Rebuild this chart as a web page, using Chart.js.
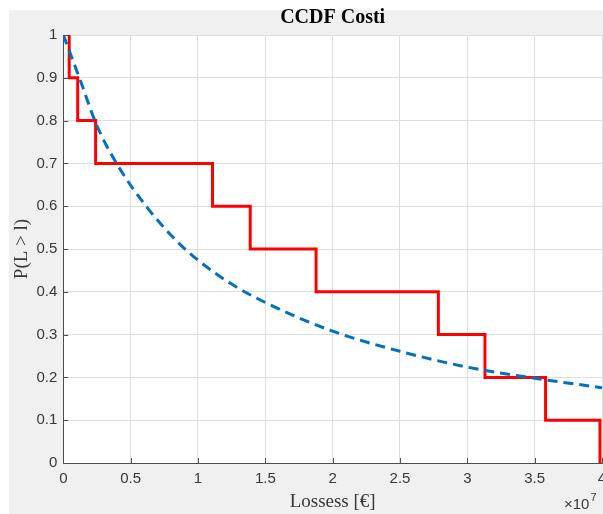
<!DOCTYPE html>
<html>
<head>
<meta charset="utf-8">
<title>CCDF Costi</title>
<script src="https://cdn.jsdelivr.net/npm/chart.js@4/dist/chart.umd.min.js"></script>
<style>
	html, body { margin: 0; padding: 0; background: #fff; }
	#ccdf { display: block; }
</style>
</head>
<body>
<canvas id="ccdf" width="603" height="514"></canvas>
<script>
// Empirical CCDF (stairs): each point closes the level it carries
var stepLoss = [0.044e7, 0.107e7, 0.24e7, 1.108e7, 1.388e7, 1.877e7, 2.785e7, 3.131e7, 3.581e7, 3.985e7, 3.985e7];
var stepProb = [1, 0.9, 0.8, 0.7, 0.6, 0.5, 0.4, 0.3, 0.2, 0.1, 0];

// Fitted CCDF (dashed)
var fitLoss = [0, 0.131e7, 0.247e7, 0.405e7, 0.635e7, 0.863e7, 1.0e7, 1.235e7, 1.5e7, 2.0e7, 2.5e7, 3.0e7, 3.5e7, 4.0e7];
var fitProb = [1, 0.89, 0.79, 0.695, 0.592, 0.512, 0.474, 0.421, 0.375, 0.308, 0.261, 0.224, 0.198, 0.176];

var xTicksStep = 0.5e7;
var yTicksStep = 0.1;

function toPoints(xs, ys) {
	return xs.map(function (x, i) { return { x: x, y: ys[i] }; });
}

var sans = 'Liberation Sans, Arial, sans-serif';
var serif = 'Liberation Serif, Times New Roman, serif';
var axisColor = '#4d4d4d';
var textColor = '#383838';

// Grey figure background with white axes area
var figureBackground = {
	id: 'figureBackground',
	beforeDraw: function (chart) {
		var ctx = chart.ctx, a = chart.chartArea;
		ctx.save();
		ctx.fillStyle = '#ffffff';
		ctx.fillRect(0, 0, chart.width, chart.height);
		ctx.fillStyle = '#f0f0f0';
		ctx.fillRect(9, 10, chart.width - 9, chart.height - 10);
		ctx.fillStyle = '#ffffff';
		ctx.fillRect(a.left, a.top, a.right - a.left, a.bottom - a.top);
		ctx.restore();
	}
};

// MATLAB style inward ticks and the x10^7 exponent label
var matlabAxes = {
	id: 'matlabAxes',
	afterDraw: function (chart) {
		var ctx = chart.ctx, a = chart.chartArea;
		var xs = chart.scales.x, ys = chart.scales.y;
		ctx.save();
		ctx.strokeStyle = axisColor;
		ctx.lineWidth = 1;
		ctx.beginPath();
		xs.ticks.forEach(function (t) {
			var px = Math.round(xs.getPixelForValue(t.value)) + 0.5;
			ctx.moveTo(px, a.bottom);
			ctx.lineTo(px, a.bottom - 5);
		});
		ys.ticks.forEach(function (t) {
			var py = Math.round(ys.getPixelForValue(t.value)) + 0.5;
			ctx.moveTo(a.left, py);
			ctx.lineTo(a.left + 5, py);
		});
		ctx.stroke();

		ctx.fillStyle = textColor;
		ctx.textBaseline = 'alphabetic';
		ctx.font = '15px ' + sans;
		var base = '\u00d710';
		ctx.fillText(base, 564, 509);
		var w = ctx.measureText(base).width;
		ctx.font = '11px ' + sans;
		ctx.fillText('7', 564 + w + 1, 501);
		ctx.restore();
	}
};

new Chart(document.getElementById('ccdf').getContext('2d'), {
	type: 'line',
	data: {
		datasets: [
			{
				label: 'Fit',
				data: toPoints(fitLoss, fitProb),
				borderColor: '#0072bd',
				borderWidth: 3,
				borderDash: [10, 6],
				cubicInterpolationMode: 'monotone',
				pointRadius: 0,
				fill: false,
				order: 0
			},
			{
				label: 'Empirica',
				data: toPoints(stepLoss, stepProb),
				borderColor: '#ff0000',
				borderWidth: 3,
				stepped: 'after',
				pointRadius: 0,
				fill: false,
				order: 1
			}
		]
	},
	options: {
		responsive: false,
		animation: false,
		layout: { padding: { left: 0, right: 1, top: 0, bottom: 0 } },
		plugins: {
			legend: { display: false },
			tooltip: { enabled: false },
			title: {
				display: true,
				text: 'CCDF Costi',
				fullSize: false,
				color: '#000000',
				font: { family: serif, size: 20, weight: 'bold' },
				padding: { top: 6, bottom: 5 }
			}
		},
		scales: {
			x: {
				type: 'linear',
				min: 0,
				max: 4e7,
				afterFit: function (scale) {
					scale.height = 51;
					scale.paddingLeft = 0;
					scale.paddingRight = 0;
				},
				ticks: {
					stepSize: xTicksStep,
					autoSkip: false,
					maxRotation: 0,
					padding: 7,
					color: textColor,
					font: { family: sans, size: 15 },
					callback: function (v) { return String(Number((v / 1e7).toFixed(2))); }
				},
				grid: { color: '#dedede', drawTicks: false },
				border: { color: axisColor },
				title: {
					display: true,
					text: 'Lossess [\u20ac]',
					color: textColor,
					font: { family: serif, size: 19 },
					padding: { top: 0, bottom: 1 }
				}
			},
			y: {
				min: 0,
				max: 1,
				afterFit: function (scale) {
					scale.width = 63.3;
					scale.paddingTop = 0;
					scale.paddingBottom = 0;
				},
				ticks: {
					stepSize: yTicksStep,
					padding: 6,
					color: textColor,
					font: { family: sans, size: 15 },
					callback: function (v) { return String(Number(v.toFixed(1))); }
				},
				grid: { color: '#dedede', drawTicks: false },
				border: { color: axisColor },
				title: {
					display: true,
					text: 'P(L > l)',
					color: textColor,
					font: { family: serif, size: 19 },
					padding: { top: 11, bottom: 0 }
				}
			}
		}
	},
	plugins: [figureBackground, matlabAxes]
});
</script>
</body>
</html>
